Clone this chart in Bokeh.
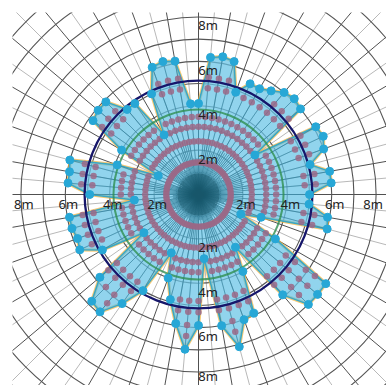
import numpy as np
from bokeh.plotting import figure
from bokeh.models import Range1d
from bokeh.embed import file_html
from bokeh.resources import INLINE
from bokeh.core.properties import value

# ---- data -------------------------------------------------------------
angles_deg = list(range(0, 360, 5))
radius_m = [5.0, 6.0, 6.0, 5.2, 6.0, 6.2, 6.1, 3.1, 6.0, 6.1,
            6.0, 5.7, 5.5, 5.5, 4.9, 6.2, 6.3, 6.2, 4.1, 4.1,
            6.1, 6.2, 6.1, 5.0, 3.1, 5.0, 5.0, 5.9, 5.9, 5.8,
            4.0, 2.0, 3.9, 6.0, 5.9, 5.9, 4.9, 2.9, 5.9, 5.9,
            5.8, 5.9, 5.0, 3.0, 5.8, 6.8, 6.9, 6.0, 5.0, 2.9,
            4.0, 4.9, 5.9, 7.0, 5.9, 2.9, 6.0, 7.1, 6.0, 5.9,
            4.0, 2.9, 5.9, 7.0, 7.0, 7.0, 4.0, 2.1, 3.0, 6.0,
            5.9, 5.0]
dot_rings = [1.45, 2.4, 3.05, 3.5, 4.8, 5.3, 5.9, 6.4]
grid_rings = [1, 2, 3, 4, 5, 6, 7, 8, 9, 10, 11, 12]
mean_ring = 5.13
inner_ring = 3.83
tick_values = [2, 4, 6, 8]
tick_labels = ["2m", "4m", "6m", "8m"]

# ---- figure -----------------------------------------------------------
PX = 22.2
W, H, B = 386, 385, 12
p = figure(width=W, height=H, output_backend="svg", toolbar_location=None,
           min_border_left=B, min_border_top=B, min_border_right=0, min_border_bottom=0,
           x_range=Range1d(-186 / PX, -186 / PX + (W - B) / PX),
           y_range=Range1d(182 / PX - (H - B) / PX, 182 / PX))
p.axis.visible = False
p.grid.visible = False
p.outline_line_color = None
p.background_fill_color = "white"

th = np.deg2rad(np.array(angles_deg, dtype=float))
r = np.array(radius_m)

# radial grid lines
R = 13
dark = [a for a in angles_deg if a % 10 == 0]
light = [a for a in angles_deg if a % 10 != 0]
for group, col in ((light, "#b8b8b8"), (dark, "#505050")):
    t = np.deg2rad(np.array(group, dtype=float))
    p.segment(x0=0, y0=0, x1=R * np.cos(t), y1=R * np.sin(t), line_color=col, line_width=1)

# ring grid
p.arc(x=0, y=0, radius=grid_rings, start_angle=0, end_angle=2 * np.pi,
      line_color="#555555", line_width=1.1)

# halo + filled polygon
xs = list(r * np.cos(th)) + [r[0] * np.cos(th[0])]
ys = list(r * np.sin(th)) + [r[0] * np.sin(th[0])]
p.line(xs, ys, line_color="#f2b23a", line_width=3.5, line_alpha=0.7)
p.patch(xs, ys, fill_color="#66c3e6", fill_alpha=0.72, line_color="#3aa6c4", line_width=1.5)

# spokes inside the polygon
p.segment(x0=0, y0=0, x1=r * np.cos(th), y1=r * np.sin(th),
          line_color="#2a7894", line_width=1, line_alpha=0.55)
th2 = th + np.deg2rad(2.5)
rin = np.minimum(r, np.roll(r, -1)) * 0.4
p.segment(x0=0, y0=0, x1=rin * np.cos(th2), y1=rin * np.sin(th2),
          line_color="#1f6a84", line_width=1, line_alpha=0.6)
th3 = np.concatenate([th + np.deg2rad(1.25), th + np.deg2rad(3.75)])
p.segment(x0=0, y0=0, x1=0.95 * np.cos(th3), y1=0.95 * np.sin(th3),
          line_color="#17566a", line_width=1, line_alpha=0.6)

# mauve dots
dx, dy = [], []
for rr in dot_rings:
    for a, v in zip(angles_deg, radius_m):
        if rr < v - 0.4:
            t = np.deg2rad(a)
            dx.append(rr * np.cos(t))
            dy.append(rr * np.sin(t))
p.scatter(dx, dy, size=6.5, fill_color="#9b6786", line_color=None, fill_alpha=0.85)

# reference circles
p.arc(x=0, y=0, radius=inner_ring, start_angle=0, end_angle=2 * np.pi,
      line_color="#2f8f50", line_width=2, line_alpha=0.8)
p.arc(x=0, y=0, radius=mean_ring, start_angle=0, end_angle=2 * np.pi,
      line_color="#16166a", line_width=2.3)

# vertex markers
p.scatter(r * np.cos(th), r * np.sin(th), size=8, fill_color="#27a7d6", line_color="#27a7d6")

# labels
tv = np.array(tick_values, dtype=float)
font = value("Noto Sans")
hx_off = [3, 3, 3, -3, 3, 3, 3, 3]
vy_off = [8.5, 8.5, 8.5, 8.5, 8.5, 8.5, 8.5, 4]
p.text(x=np.concatenate([tv, -tv]), y=np.zeros(8), text=tick_labels * 2,
       text_font=font, text_font_size="13px", text_color="#222222",
       text_align="center", text_baseline="middle", x_offset=hx_off, y_offset=9)
p.text(x=np.zeros(8), y=np.concatenate([tv, -tv]), text=tick_labels * 2,
       text_font=font, text_font_size="13px", text_color="#222222",
       text_align="center", text_baseline="middle", x_offset=9.5, y_offset=vy_off)

open("out.html", "w").write(file_html(p, INLINE))
